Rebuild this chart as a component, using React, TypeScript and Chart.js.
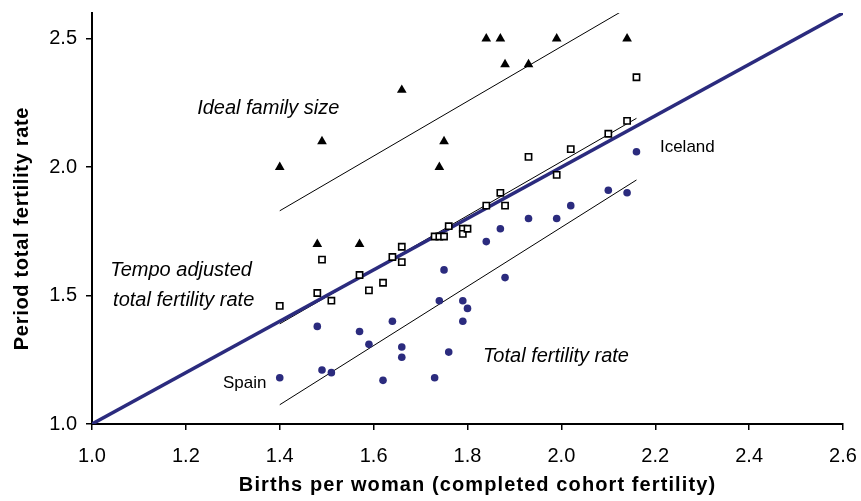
import React, { useEffect, useRef } from 'react';
import { Chart, registerables } from 'chart.js';
Chart.register(...registerables);

// Axis ticks
const xTicks = [1.0, 1.2, 1.4, 1.6, 1.8, 2.0, 2.2, 2.4, 2.6];
const yTicks = [1.0, 1.5, 2.0, 2.5];

// Countries: completed cohort fertility (x)
const cohortX = [1.40, 1.48, 1.49, 1.51, 1.57, 1.59, 1.62, 1.64, 1.66, 1.66, 1.73, 1.74, 1.75, 1.76, 1.79, 1.79, 1.80, 1.84, 1.87, 1.88, 1.93, 1.99, 2.02, 2.10, 2.14, 2.16];
// Tempo adjusted total fertility rate
const tempoY = [1.46, 1.51, 1.64, 1.48, 1.58, 1.52, 1.55, 1.65, 1.69, 1.63, 1.73, 1.73, 1.73, 1.77, 1.76, 1.74, 1.76, 1.85, 1.90, 1.85, 2.04, 1.97, 2.07, 2.13, 2.18, 2.35];
// Total fertility rate
const tfrY = [1.18, 1.38, 1.21, 1.20, 1.36, 1.31, 1.17, 1.40, 1.30, 1.26, 1.18, 1.48, 1.60, 1.28, 1.48, 1.40, 1.45, 1.71, 1.76, 1.57, 1.80, 1.80, 1.85, 1.91, 1.90, 2.06];

// Ideal family size
const idealX = [1.40, 1.48, 1.49, 1.57, 1.66, 1.74, 1.75, 1.84, 1.87, 1.88, 1.93, 1.99, 2.14];
const idealY = [2.0, 1.7, 2.1, 1.7, 2.3, 2.0, 2.1, 2.5, 2.5, 2.4, 2.4, 2.5, 2.5];

// Fitted lines (end points)
const idealFitX = [1.40, 2.16];
const idealFitY = [1.83, 2.64];
const tempoFitX = [1.40, 2.16];
const tempoFitY = [1.39, 2.19];
const tfrFitX = [1.40, 2.16];
const tfrFitY = [1.075, 1.95];
// Equality line
const equalX = [1.0, 2.6];
const equalY = [1.0, 2.6];

const xTitle = 'Births per woman (completed cohort fertility)';
const yTitle = 'Period total fertility rate';

// Text labels anchored in data units
const labelText = ['Ideal family size', 'Tempo adjusted', 'total fertility rate', 'Total fertility rate', 'Iceland', 'Spain'];
const labelX = [1.224, 1.039, 1.045, 1.833, 2.21, 1.279];
const labelY = [2.228, 1.599, 1.482, 1.264, 2.077, 1.159];
const labelItalic = [true, true, true, true, false, false];

const NAVY = '#2b2b7e';
const FONT = '"Liberation Sans", Arial, Helvetica, sans-serif';

const pts = (xs: number[], ys: number[]) => xs.map((x, i) => ({ x, y: ys[i] }));

export default function App() {
  const ref = useRef<HTMLCanvasElement>(null);
  useEffect(() => {
    if (!ref.current) return;
    const textPlugin = {
      id: 'textPlugin',
      afterDraw(chart: any) {
        const { ctx, scales, chartArea } = chart;
        const xs = scales.x, ys = scales.y;
        ctx.save();
        ctx.fillStyle = '#000';
        ctx.textBaseline = 'middle';
        ctx.textAlign = 'left';
        labelText.forEach((t, i) => {
          ctx.font = labelItalic[i] ? `italic 20px ${FONT}` : `17px ${FONT}`;
          ctx.fillText(t, xs.getPixelForValue(labelX[i]), ys.getPixelForValue(labelY[i]));
        });
        ctx.font = `bold 20px ${FONT}`;
        ctx.textAlign = 'center';
        try { (ctx as any).letterSpacing = '1.1px'; } catch (e) {}
        ctx.fillText(xTitle, (chartArea.left + chartArea.right) / 2 + 10, chartArea.bottom + 61);
        try { (ctx as any).letterSpacing = '0.7px'; } catch (e) {}
        ctx.translate(22, (chartArea.top + chartArea.bottom) / 2 + 10);
        ctx.rotate(-Math.PI / 2);
        ctx.fillText(yTitle, 0, 0);
        try { (ctx as any).letterSpacing = '0px'; } catch (e) {}
        ctx.restore();
      },
    };
    const lineDs = (label: string, data: any[], color: string, width: number) => ({
      label, data, showLine: true, borderColor: color, borderWidth: width,
      pointRadius: 0, pointHoverRadius: 0, fill: false, order: 1,
    });
    const zeroPad = (s: any) => { s.paddingTop = 0; s.paddingBottom = 0; s.paddingLeft = 0; s.paddingRight = 0; };
    const chart = new Chart(ref.current, {
      type: 'scatter',
      data: {
        datasets: [
          {
            label: 'Ideal family size', data: pts(idealX, idealY), pointStyle: 'triangle',
            pointRadius: 5.6, backgroundColor: '#000', borderColor: '#000', borderWidth: 0, order: 0,
          },
          {
            label: 'Tempo adjusted TFR', data: pts(cohortX, tempoY), pointStyle: 'rect',
            pointRadius: 4.4, backgroundColor: '#fff', borderColor: '#000', borderWidth: 1.6, order: 0,
          },
          {
            label: 'TFR', data: pts(cohortX, tfrY), pointStyle: 'circle',
            pointRadius: 3.8, backgroundColor: NAVY, borderColor: NAVY, borderWidth: 0, order: 0,
          },
          lineDs('Equality', pts(equalX, equalY), NAVY, 3.5),
          lineDs('Ideal fit', pts(idealFitX, idealFitY), '#000', 1),
          lineDs('Tempo fit', pts(tempoFitX, tempoFitY), '#000', 1),
          lineDs('TFR fit', pts(tfrFitX, tfrFitY), '#000', 1),
        ] as any,
      },
      options: {
        animation: false,
        responsive: true,
        maintainAspectRatio: false,
        layout: { padding: { top: 13, right: 18, left: 0, bottom: 0 } },
        plugins: { legend: { display: false }, tooltip: { enabled: false } },
        scales: {
          x: {
            type: 'linear', min: 1.0, max: 2.6,
            afterBuildTicks: (s: any) => { s.ticks = xTicks.map((v) => ({ value: v })); },
            afterFit: (s: any) => { s.height = 77; zeroPad(s); },
            grid: { display: true, drawOnChartArea: false, drawTicks: true, tickLength: 6, color: '#000', lineWidth: 1.5 },
            border: { display: true, color: '#000', width: 2 },
            ticks: {
              color: '#000', font: { family: FONT, size: 20 }, padding: 14, maxRotation: 0,
              callback: (v: any) => Number(v).toFixed(1),
            },
          },
          y: {
            type: 'linear', min: 1.0, max: 2.6,
            afterBuildTicks: (s: any) => { s.ticks = yTicks.map((v) => ({ value: v })); },
            afterFit: (s: any) => { s.width = 92; zeroPad(s); },
            grid: { display: true, drawOnChartArea: false, drawTicks: true, tickLength: 6, color: '#000', lineWidth: 1.5 },
            border: { display: true, color: '#000', width: 2 },
            ticks: {
              color: '#000', font: { family: FONT, size: 20 }, padding: 9,
              callback: (v: any) => Number(v).toFixed(1),
            },
          },
        },
      } as any,
      plugins: [textPlugin],
    });
    return () => chart.destroy();
  }, []);
  return (
    <div style={{ position: 'absolute', left: 0, top: 0, width: 861, height: 501, background: '#fff' }}>
      <canvas ref={ref} />
    </div>
  );
}
